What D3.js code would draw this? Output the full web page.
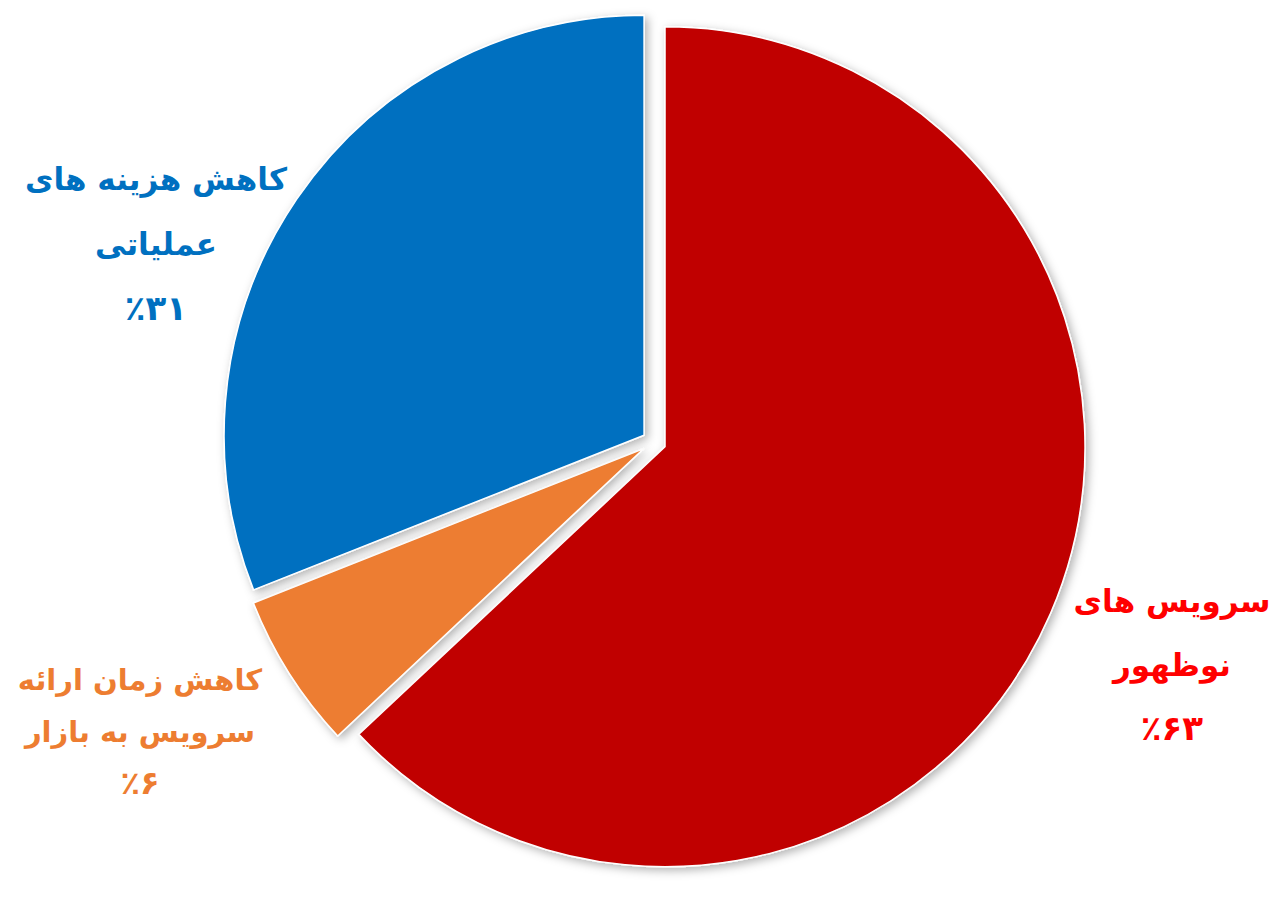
<!DOCTYPE html>
<html><head><meta charset="utf-8">
<script src="https://cdn.jsdelivr.net/npm/d3@7"></script>
<style>
html,body{margin:0;padding:0;background:#fff;}
svg{display:block;}
</style></head>
<body>
<svg id="chart" width="1281" height="903"></svg>
<script>
// data
const categories = ["سرویس های نوظهور", "کاهش زمان ارائه سرویس به بازار", "کاهش هزینه های عملیاتی"];
const labelLines = [["سرویس های", "نوظهور"], ["کاهش زمان ارائه", "سرویس به بازار"], ["کاهش هزینه های", "عملیاتی"]];
const values = [63, 6, 31];
const sliceColors = ["#C00000", "#ED7D31", "#0070C0"];
const textColors = ["#FF0000", "#ED7D31", "#0070C0"];

// layout
const W = 1281, H = 903;
const cx = 654, cy = 442, R = 420, explode = 12;
const labelPos = [
  {x: 1172, y: 612, dy: 64, size: 31, psize: 34},
  {x: 140, y: 690, dy: 52, size: 29, psize: 32},
  {x: 156, y: 190, dy: 65, size: 31, psize: 34}
];

const toFa = n => String(n).replace(/\d/g, d => "۰۱۲۳۴۵۶۷۸۹"[+d]);

const svg = d3.select("#chart");
const defs = svg.append("defs");
const f = defs.append("filter").attr("id", "sh").attr("x", "-20%").attr("y", "-20%").attr("width", "140%").attr("height", "140%");
f.append("feDropShadow").attr("dx", 3).attr("dy", 3).attr("stdDeviation", 5).attr("flood-color", "#000").attr("flood-opacity", 0.3);

const pie = d3.pie().sort(null).value(d => d)(values);
const arc = d3.arc().innerRadius(0).outerRadius(R);

const g = svg.append("g").attr("transform", `translate(${cx},${cy})`);
g.selectAll("path").data(pie).join("path")
  .attr("d", arc)
  .attr("fill", (d, i) => sliceColors[i])
  .attr("stroke", "#fff").attr("stroke-width", 1.5)
  .attr("filter", "url(#sh)")
  .attr("transform", d => {
    const a = (d.startAngle + d.endAngle) / 2;
    return `translate(${explode * Math.sin(a)},${-explode * Math.cos(a)})`;
  });

// labels
values.forEach((v, i) => {
  const p = labelPos[i];
  const t = svg.append("text")
    .attr("text-anchor", "middle")
    .attr("direction", "rtl")
    .attr("font-family", "'DejaVu Sans', sans-serif")
    .attr("font-weight", "bold")
    .attr("font-size", p.size)
    .attr("fill", textColors[i]);
  labelLines[i].forEach((ln, k) => {
    t.append("tspan").attr("x", p.x).attr("y", p.y + k * p.dy).text(ln);
  });
  t.append("tspan").attr("x", p.x).attr("y", p.y + 2 * p.dy)
    .attr("font-size", p.psize)
    .text("٪" + toFa(v));
});
</script>
</body></html>
